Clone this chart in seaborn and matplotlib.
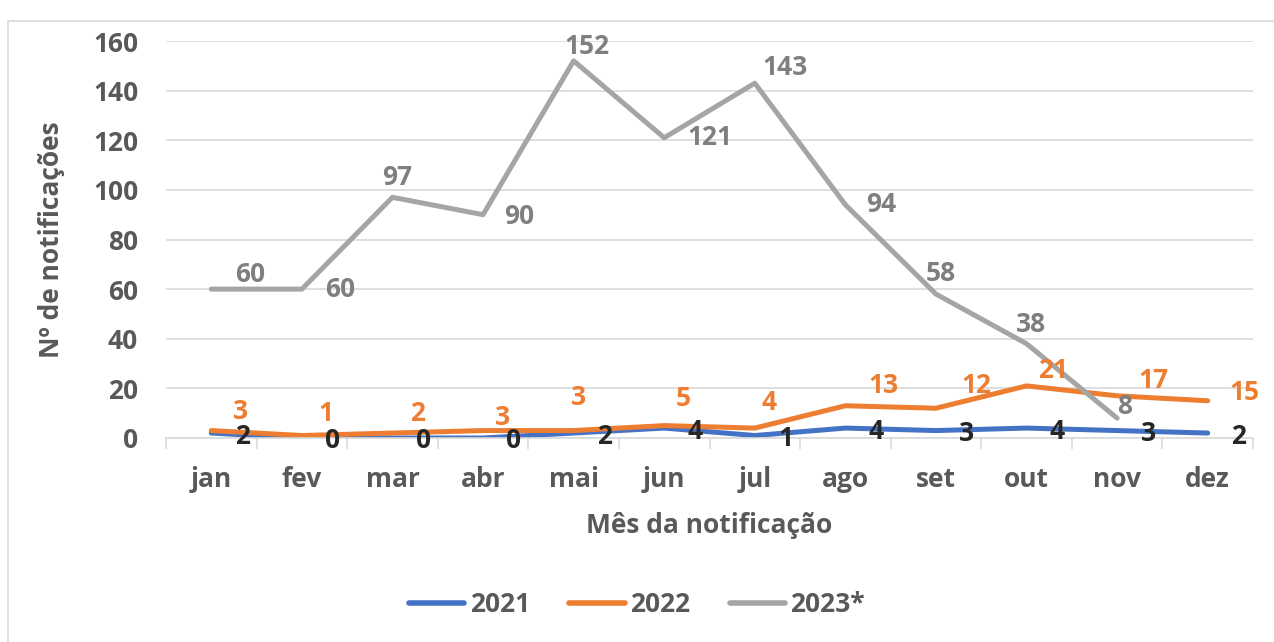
import pandas as pd
import matplotlib.pyplot as plt
import seaborn as sns
from matplotlib.lines import Line2D
from matplotlib.patches import Rectangle

# monthly notifications
meses = ["jan", "fev", "mar", "abr", "mai", "jun", "jul", "ago", "set", "out", "nov", "dez"]
anos = ["2021", "2022", "2023*"]
v2021 = [2, 0, 0, 0, 2, 4, 1, 4, 3, 4, 3, 2]
v2022 = [3, 1, 2, 3, 3, 5, 4, 13, 12, 21, 17, 15]
v2023 = [60, 60, 97, 90, 152, 121, 143, 94, 58, 38, 8]
yticks = [0, 20, 40, 60, 80, 100, 120, 140, 160]

cores = {"2021": "#4472C4", "2022": "#ED7D31", "2023*": "#A5A5A5"}
cor_rotulo = {"2021": "#262626", "2022": "#ED7D31", "2023*": "#7F7F7F"}

# label offsets in pixels (dx, dy up)
off2021 = [(31, -3)] * 12
off2022 = [(29, 19), (24, 22), (25, 20), (19, 13), (5, 33), (19, 27), (14, 26),
           (38, 20), (40, 23), (27, 15), (36, 15), (37, 8)]
off2023 = [(39, 15), (38, 0), (5, 20), (36, -2), (13, 14), (46, 0), (30, 16),
           (36, 0), (5, 21), (4, 19), (7, 12)]

linhas = []
for ano, vals in zip(anos, [v2021, v2022, v2023]):
    for i, v in enumerate(vals):
        linhas.append({"mes": i, "ano": ano, "n": v})
df = pd.DataFrame(linhas)

sns.set_theme(style="white")
plt.rcParams["font.family"] = ["Open Sans", "DejaVu Sans"]
plt.rcParams["font.weight"] = "bold"
fs = 19

fig = plt.figure(figsize=(12.74, 6.42), dpi=100)
fig.patches.append(Rectangle((8 / 1274, -0.01), 1.1, 1 - 21 / 642 + 0.01, transform=fig.transFigure,
                             fill=False, edgecolor="#D9D9D9", linewidth=1.2))
ax = fig.add_axes([166 / 1274, 1 - 438 / 642, 1087 / 1274, (438 - 41) / 642])

sns.lineplot(data=df, x="mes", y="n", hue="ano", palette=cores, linewidth=3.6,
             ax=ax, legend=False, sort=False, solid_capstyle="round")

for ano, vals, offs in zip(anos, [v2021, v2022, v2023], [off2021, off2022, off2023]):
    for i, v in enumerate(vals):
        ax.annotate(str(v), (i, v), xytext=offs[i], textcoords="offset pixels",
                    ha="center", va="center", fontsize=fs, weight="bold",
                    color=cor_rotulo[ano], annotation_clip=False)

ax.set_xlim(-0.5, 11.5)
ax.set_ylim(0, 160)
ax.set_yticks(yticks)
ax.set_xticks(range(12))
ax.set_xticklabels(meses)
ax.set_xticks([i - 0.5 for i in range(13)], minor=True)
ax.grid(axis="y", color="#D9D9D9", linewidth=1.2)
ax.set_axisbelow(True)
for s in ["top", "right", "left"]:
    ax.spines[s].set_visible(False)
ax.spines["bottom"].set_color("#D9D9D9")
ax.spines["bottom"].set_linewidth(1.2)
ax.tick_params(axis="x", which="major", length=0, pad=20, labelsize=fs, labelcolor="#595959")
ax.tick_params(axis="x", which="minor", length=8, width=1.2, color="#D9D9D9", bottom=True)
ax.tick_params(axis="y", length=0, pad=20, labelsize=fs, labelcolor="#595959")
for t in ax.get_xticklabels() + ax.get_yticklabels():
    t.set_fontweight("bold")

ax.set_xlabel("Mês da notificação", fontsize=fs, fontweight="bold", color="#595959", labelpad=14)
ax.set_ylabel("Nº de notificações", fontsize=fs, fontweight="bold", color="#595959", labelpad=20)

handles = [Line2D([0], [0], color=cores[a], linewidth=4, solid_capstyle="round") for a in anos]
leg = fig.legend(handles, anos, loc="center", bbox_to_anchor=(0.5, 1 - 605 / 642), ncol=3,
                 frameon=False, handlelength=2.1, handletextpad=0.2, columnspacing=1.5,
                 prop={"size": fs, "weight": "bold"})
for t in leg.get_texts():
    t.set_color("#595959")

fig.savefig("out.png", dpi=100)
